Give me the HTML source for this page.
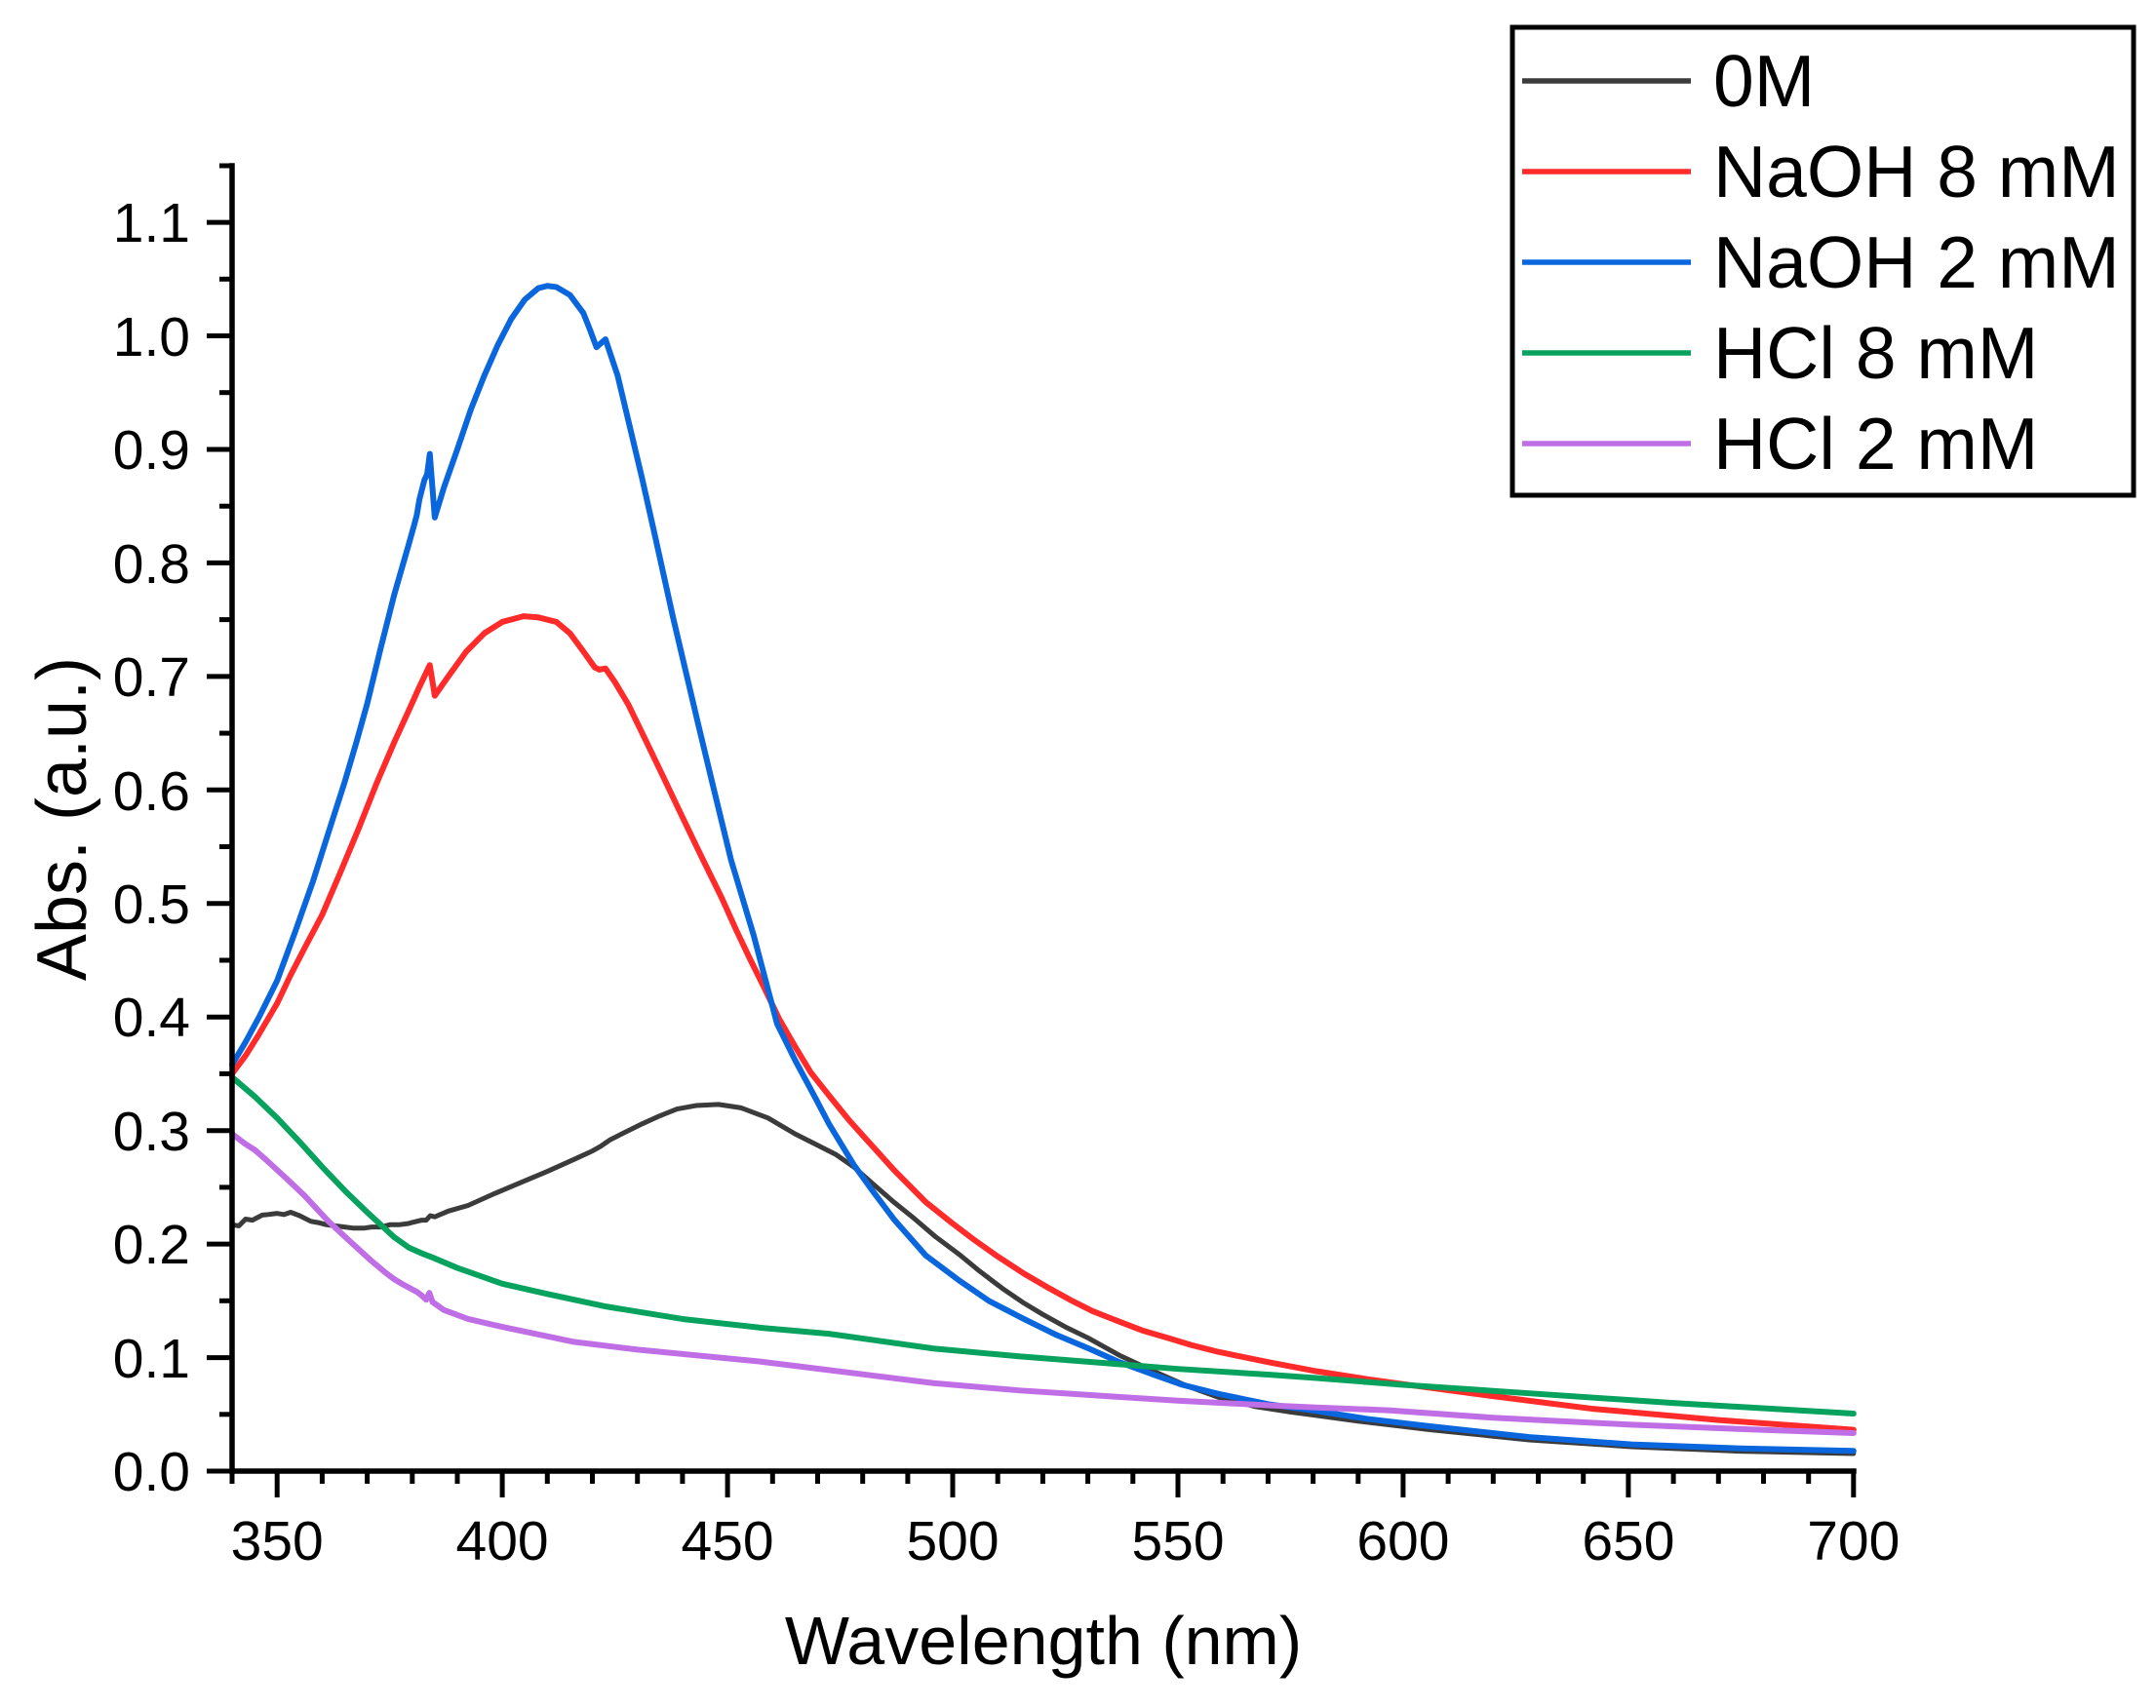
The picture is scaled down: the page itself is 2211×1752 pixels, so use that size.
<!DOCTYPE html>
<html><head><meta charset="utf-8"><style>
html,body{margin:0;padding:0;background:#fff;}
svg{display:block;}
text{font-family:"Liberation Sans",Arial,sans-serif;fill:#000;}
</style></head><body>
<svg width="2211" height="1752" viewBox="0 0 2211 1752" xmlns="http://www.w3.org/2000/svg">
<rect width="2211" height="1752" fill="#fff"/>

<g transform="translate(238 1509) scale(4.619 -1164.5) translate(-340 0)" fill="none" stroke-linejoin="round" stroke-linecap="round">
<polyline vector-effect="non-scaling-stroke" stroke="#3b3b3b" stroke-width="5" points="340,0.217 341.5,0.216 343,0.222 344.5,0.221 346.7,0.2255 348,0.226 350,0.227 351.5,0.226 353,0.228 355,0.225 357.5,0.220 359,0.219 361,0.217 363,0.216 365,0.215 367,0.214 369.2,0.214 371,0.215 373,0.215 375,0.217 377,0.217 379,0.218 380,0.219 382,0.221 383.1,0.221 384,0.225 385,0.224 388,0.229 392.4,0.234 398,0.244 404,0.254 410,0.264 415.6,0.274 420,0.282 421.8,0.286 424,0.292 426,0.296 431.1,0.306 435,0.313 438.8,0.319 443,0.322 448,0.323 453,0.320 459,0.311 465,0.297 470,0.287 474,0.279 478,0.268 482,0.254 486.9,0.237 491,0.224 496,0.207 501.4,0.191 506,0.176 511,0.161 515.8,0.148 520,0.138 525,0.127 530.2,0.117 537,0.102 544.6,0.088 552,0.075 559,0.065 567,0.057 575,0.052 580.7,0.049 590,0.044 605.9,0.0365 628,0.0275 650.7,0.0215 675,0.0175 700,0.0155"/>
<polyline vector-effect="non-scaling-stroke" stroke="#ff2a2a" stroke-width="6" points="340,0.350 343,0.366 346,0.385 350,0.412 353,0.437 356,0.460 360,0.490 364,0.527 368,0.565 372,0.605 376,0.642 379,0.668 381.5,0.690 383.9,0.710 385,0.683 388,0.700 392,0.722 396,0.738 400,0.748 404.7,0.753 408,0.752 412,0.748 415,0.738 418,0.722 420.5,0.708 421.5,0.706 422.9,0.707 425,0.695 428,0.675 431.8,0.644 435.8,0.611 440,0.576 444,0.543 448.7,0.505 452,0.476 455,0.451 458,0.427 461.5,0.398 465,0.374 468.5,0.351 472.5,0.331 477,0.309 482,0.287 487,0.265 494,0.237 500,0.218 505,0.203 510,0.189 515.8,0.174 521,0.162 526,0.151 531,0.141 537.4,0.131 542,0.124 548,0.117 553,0.111 559,0.105 570,0.096 580.7,0.088 592,0.081 603,0.075 620,0.066 641.8,0.055 670,0.045 700,0.0364"/>
<polyline vector-effect="non-scaling-stroke" stroke="#0a66dd" stroke-width="6" points="340,0.358 343,0.378 346,0.400 350,0.432 354,0.475 358,0.520 362,0.570 365,0.607 367.6,0.642 370,0.676 373,0.725 376,0.772 379.2,0.816 380.4,0.833 381,0.842 381.6,0.856 382.7,0.873 383.3,0.878 383.9,0.896 385,0.840 387,0.866 390,0.900 393,0.935 396,0.965 399,0.992 402,1.015 405,1.032 408,1.042 410,1.044 412,1.043 415,1.036 418,1.020 419.5,1.005 420.9,0.990 422.9,0.997 425.6,0.965 428,0.925 431,0.875 434,0.822 437.9,0.752 443.6,0.656 447,0.600 450.8,0.538 455.8,0.472 461,0.394 465,0.362 469.6,0.328 472.5,0.306 478,0.270 482,0.248 486.9,0.222 494,0.190 501.4,0.168 508,0.150 515.8,0.134 523,0.120 530.2,0.108 537,0.096 544.6,0.085 551,0.076 559,0.068 570,0.059 580.7,0.053 592,0.046 605.9,0.0395 628,0.030 650.7,0.0235 675,0.020 700,0.0178"/>
<polyline vector-effect="non-scaling-stroke" stroke="#07a25e" stroke-width="6" points="340,0.347 345,0.330 350,0.311 355,0.290 360,0.268 365.3,0.246 370,0.228 373,0.217 376,0.206 379.2,0.197 382,0.192 384.6,0.188 390,0.179 395,0.172 400,0.165 410,0.156 423,0.145 440,0.134 458,0.126 472.5,0.121 495.7,0.108 515,0.101 534.3,0.095 550,0.090 570,0.085 580.7,0.082 600,0.076 630,0.068 660,0.060 700,0.0507"/>
<polyline vector-effect="non-scaling-stroke" stroke="#c06ee6" stroke-width="6" points="340,0.297 343,0.288 345,0.283 347.6,0.274 352,0.258 356,0.243 361.4,0.220 366,0.203 370.7,0.186 374,0.175 376,0.169 377.7,0.165 380,0.160 381,0.158 382,0.155 383.1,0.151 383.8,0.157 384.5,0.149 387,0.142 392.4,0.134 400,0.127 415.6,0.114 430,0.107 457,0.0966 472.5,0.089 495.7,0.0775 515,0.071 534.3,0.066 550,0.062 570,0.058 580.7,0.056 596.8,0.0536 620,0.047 650,0.041 675,0.037 700,0.0335"/>
</g>

<g stroke="#000" stroke-width="5.5" fill="none" stroke-linecap="square">
<line x1="238" y1="170" x2="238" y2="1509"/>
<line x1="238" y1="1509" x2="1901" y2="1509"/>
</g>
<g stroke="#000" stroke-width="5">
<line x1="212" y1="1509" x2="238" y2="1509"/>
<line x1="225" y1="1450.8" x2="238" y2="1450.8"/>
<line x1="212" y1="1392.6" x2="238" y2="1392.6"/>
<line x1="225" y1="1334.3" x2="238" y2="1334.3"/>
<line x1="212" y1="1276.1" x2="238" y2="1276.1"/>
<line x1="225" y1="1217.9" x2="238" y2="1217.9"/>
<line x1="212" y1="1159.7" x2="238" y2="1159.7"/>
<line x1="225" y1="1101.4" x2="238" y2="1101.4"/>
<line x1="212" y1="1043.2" x2="238" y2="1043.2"/>
<line x1="225" y1="985" x2="238" y2="985"/>
<line x1="212" y1="926.8" x2="238" y2="926.8"/>
<line x1="225" y1="868.5" x2="238" y2="868.5"/>
<line x1="212" y1="810.3" x2="238" y2="810.3"/>
<line x1="225" y1="752.1" x2="238" y2="752.1"/>
<line x1="212" y1="693.9" x2="238" y2="693.9"/>
<line x1="225" y1="635.6" x2="238" y2="635.6"/>
<line x1="212" y1="577.4" x2="238" y2="577.4"/>
<line x1="225" y1="519.2" x2="238" y2="519.2"/>
<line x1="212" y1="461" x2="238" y2="461"/>
<line x1="225" y1="402.7" x2="238" y2="402.7"/>
<line x1="212" y1="344.5" x2="238" y2="344.5"/>
<line x1="225" y1="286.3" x2="238" y2="286.3"/>
<line x1="212" y1="228.1" x2="238" y2="228.1"/>
<line x1="225" y1="170" x2="238" y2="170"/>
</g>
<g stroke="#000" stroke-width="5">
<line x1="238" y1="1509" x2="238" y2="1522"/>
<line x1="284.2" y1="1509" x2="284.2" y2="1536"/>
<line x1="330.4" y1="1509" x2="330.4" y2="1522"/>
<line x1="376.6" y1="1509" x2="376.6" y2="1522"/>
<line x1="422.8" y1="1509" x2="422.8" y2="1522"/>
<line x1="469" y1="1509" x2="469" y2="1522"/>
<line x1="515.1" y1="1509" x2="515.1" y2="1536"/>
<line x1="561.3" y1="1509" x2="561.3" y2="1522"/>
<line x1="607.5" y1="1509" x2="607.5" y2="1522"/>
<line x1="653.7" y1="1509" x2="653.7" y2="1522"/>
<line x1="699.9" y1="1509" x2="699.9" y2="1522"/>
<line x1="746.1" y1="1509" x2="746.1" y2="1536"/>
<line x1="792.3" y1="1509" x2="792.3" y2="1522"/>
<line x1="838.5" y1="1509" x2="838.5" y2="1522"/>
<line x1="884.7" y1="1509" x2="884.7" y2="1522"/>
<line x1="930.9" y1="1509" x2="930.9" y2="1522"/>
<line x1="977" y1="1509" x2="977" y2="1536"/>
<line x1="1023.2" y1="1509" x2="1023.2" y2="1522"/>
<line x1="1069.4" y1="1509" x2="1069.4" y2="1522"/>
<line x1="1115.6" y1="1509" x2="1115.6" y2="1522"/>
<line x1="1161.8" y1="1509" x2="1161.8" y2="1522"/>
<line x1="1208" y1="1509" x2="1208" y2="1536"/>
<line x1="1254.2" y1="1509" x2="1254.2" y2="1522"/>
<line x1="1300.4" y1="1509" x2="1300.4" y2="1522"/>
<line x1="1346.6" y1="1509" x2="1346.6" y2="1522"/>
<line x1="1392.8" y1="1509" x2="1392.8" y2="1522"/>
<line x1="1438.9" y1="1509" x2="1438.9" y2="1536"/>
<line x1="1485.1" y1="1509" x2="1485.1" y2="1522"/>
<line x1="1531.3" y1="1509" x2="1531.3" y2="1522"/>
<line x1="1577.5" y1="1509" x2="1577.5" y2="1522"/>
<line x1="1623.7" y1="1509" x2="1623.7" y2="1522"/>
<line x1="1669.9" y1="1509" x2="1669.9" y2="1536"/>
<line x1="1716.1" y1="1509" x2="1716.1" y2="1522"/>
<line x1="1762.3" y1="1509" x2="1762.3" y2="1522"/>
<line x1="1808.5" y1="1509" x2="1808.5" y2="1522"/>
<line x1="1854.7" y1="1509" x2="1854.7" y2="1522"/>
<line x1="1900.8" y1="1509" x2="1900.8" y2="1536"/>
</g>

<g font-size="57" text-anchor="end">
<text x="195" y="1529">0.0</text>
<text x="195" y="1413">0.1</text>
<text x="195" y="1296">0.2</text>
<text x="195" y="1180">0.3</text>
<text x="195" y="1063">0.4</text>
<text x="195" y="947">0.5</text>
<text x="195" y="831">0.6</text>
<text x="195" y="714">0.7</text>
<text x="195" y="598">0.8</text>
<text x="195" y="481">0.9</text>
<text x="195" y="365">1.0</text>
<text x="195" y="248">1.1</text>
</g>
<g font-size="57" text-anchor="middle">
<text x="284.2" y="1600">350</text>
<text x="515.1" y="1600">400</text>
<text x="746.1" y="1600">450</text>
<text x="977" y="1600">500</text>
<text x="1208" y="1600">550</text>
<text x="1438.9" y="1600">600</text>
<text x="1669.9" y="1600">650</text>
<text x="1900.8" y="1600">700</text>
</g>

<text x="1070" y="1707" font-size="70" text-anchor="middle">Wavelength (nm)</text>
<text transform="translate(88 840) rotate(-90)" font-size="72" text-anchor="middle">Abs. (a.u.)</text>

<rect x="1551" y="28" width="637" height="480" fill="#fff" stroke="#000" stroke-width="5"/>
<g stroke-width="5.5">
<line x1="1561" y1="83" x2="1734" y2="83" stroke="#3b3b3b"/>
<line x1="1561" y1="176" x2="1734" y2="176" stroke="#ff2a2a"/>
<line x1="1561" y1="269" x2="1734" y2="269" stroke="#0a66dd"/>
<line x1="1561" y1="362" x2="1734" y2="362" stroke="#07a25e"/>
<line x1="1561" y1="455" x2="1734" y2="455" stroke="#c06ee6"/>
</g>
<g font-size="75">
<text x="1757" y="109">0M</text>
<text x="1757" y="202">NaOH 8 mM</text>
<text x="1757" y="295">NaOH 2 mM</text>
<text x="1757" y="388">HCl 8 mM</text>
<text x="1757" y="481">HCl 2 mM</text>
</g>
</svg>
</body></html>
